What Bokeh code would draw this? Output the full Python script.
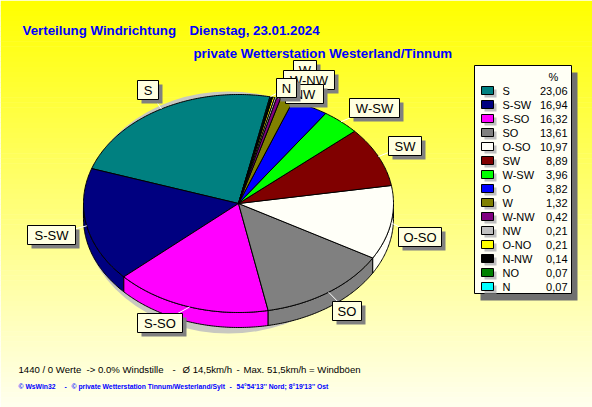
import numpy as np
from bokeh.plotting import figure
from bokeh.models import Range1d
from bokeh.embed import file_html
from bokeh.resources import INLINE
from bokeh.core.properties import value

# Wind direction shares (%) for the day, in legend order
directions = ["S", "S-SW", "S-SO", "SO", "O-SO", "SW", "W-SW", "O", "W",
              "W-NW", "NW", "O-NO", "N-NW", "NO", "N"]
shares = [23.06, 16.94, 16.32, 13.61, 10.97, 8.89, 3.96, 3.82, 1.32,
          0.42, 0.21, 0.21, 0.14, 0.07, 0.07]
colors = ["#008080", "#000080", "#ff00ff", "#808080", "#fffff8", "#800000",
          "#00ff00", "#0000ff", "#808000", "#800080", "#c0c0c0", "#ffff00",
          "#000000", "#008000", "#00ffff"]

title_left = "Verteilung Windrichtung"
title_date = "Dienstag, 23.01.2024"
subtitle = "private Wetterstation Westerland/Tinnum"
stats_parts = ["1440 / 0 Werte", "-> 0.0% Windstille", "-", "Ø 14,5km/h", "-",
               "Max. 51,5km/h = Windböen"]
credit_parts = ["© WsWin32", "-", "© private Wetterstation Tinnum/Westerland/Sylt",
                "-", "54°54'13'' Nord; 8°19'13'' Ost"]

# layout
W, H = 592, 407
CX, CY, RX, RY, DEPTH = 238, 203, 155, 109, 15
START = 78.3
FONT = value("Liberation Sans")

# label boxes (left, top, right, bottom) for the labelled slices
label_boxes = {
    "S": (137, 80, 158, 99),
    "S-SW": (27, 225, 75, 244),
    "S-SO": (137, 313, 182, 332),
    "SO": (332, 301, 361, 320),
    "O-SO": (398, 227, 441, 246),
    "SW": (388, 136, 421, 155),
    "W-SW": (349, 98, 399, 117),
    "W": (293, 60, 316, 79),
    "W-NW": (283, 70, 334, 89),
    "NW": (285, 84, 323, 103),
    "N": (276, 78, 296, 97),
}
stats_x = [18, 86, 172, 182, 236, 243]
credit_x = [18, 64, 71, 229, 236]

p = figure(width=W, height=H, output_backend="svg", toolbar_location=None,
           x_range=Range1d(0, W), y_range=Range1d(H, 0), min_border=0)
p.xaxis.visible = False
p.yaxis.visible = False
p.xgrid.visible = False
p.ygrid.visible = False
p.outline_line_color = None
p.background_fill_color = "#ffffff"
p.border_fill_color = "#ffffff"

# vertical yellow-to-cream background gradient
n_bands = 80
edges = np.linspace(0, H, n_bands + 1)
band_cols = []
for i in range(n_bands):
    f = (i + 0.5) / n_bands
    b = int(round(0 + 238 * f))
    band_cols.append("#%02x%02x%02x" % (255, 255, b))
p.quad(left=0, right=W, top=edges[:-1], bottom=edges[1:] + 0.5,
       fill_color=band_cols, line_color=None)

# soft shadow beneath the pie
p.ellipse(x=[CX - 10], y=[CY + 9], width=[2 * 146], height=[2 * 121],
          fill_color="#c8c8c0", line_color=None)

# slice angles
total = sum(shares)
angles = [s / total * 360.0 for s in shares]
t0s = []
acc = START
for a in angles:
    t0s.append(acc)
    acc += a


def arc(ta, tb, n=None):
    if n is None:
        n = max(3, int(abs(tb - ta) * 1.5))
    t = np.radians(np.linspace(ta, tb, n))
    return CX + RX * np.cos(t), CY - RY * np.sin(t)


# side walls for the front half of the pie
side_xs, side_ys, side_cols = [], [], []
for t0, a, c in zip(t0s, angles, colors):
    t1 = t0 + a
    for k in (0, 1):
        lo = max(t0, 180 + 360 * k)
        hi = min(t1, 360 + 360 * k)
        if hi > lo:
            ax, ay = arc(lo, hi)
            side_xs.append(list(ax) + list(ax[::-1]))
            side_ys.append(list(ay) + list((ay + DEPTH)[::-1]))
            side_cols.append(c)
p.patches(side_xs, side_ys, fill_color=side_cols, line_color="black", line_width=1)

# top faces
top_xs, top_ys = [], []
for t0, a in zip(t0s, angles):
    ax, ay = arc(t0, t0 + a)
    top_xs.append([CX] + list(ax))
    top_ys.append([CY] + list(ay))
p.patches(top_xs, top_ys, fill_color=colors, line_color="black", line_width=1)

# leader lines from slice edge to its label
lx0, ly0, lx1, ly1 = [], [], [], []
for d, t0, a in zip(directions, t0s, angles):
    if d not in label_boxes:
        continue
    mid = np.radians(t0 + a / 2)
    l, t, r, b = label_boxes[d]
    lx0.append(CX + RX * np.cos(mid))
    ly0.append(CY - RY * np.sin(mid))
    lx1.append((l + r) / 2)
    ly1.append((t + b) / 2)
p.segment(x0=lx0, y0=ly0, x1=lx1, y1=ly1, line_color="#ffffff", line_width=1)

# label boxes with drop shadow, each drawn over the previous
for d in label_boxes:
    l, t, r, b = label_boxes[d]
    p.quad(left=[l + 4], right=[r + 4], top=[t + 4], bottom=[b + 4],
           fill_color="#808080", line_color=None)
    p.quad(left=[l], right=[r], top=[t], bottom=[b],
           fill_color="#ffffe1", line_color="black", line_width=1)
    p.text(x=[(l + r) / 2], y=[(t + b) / 2 + 0.5], text=[d], text_font=FONT,
           text_font_size=value("13px"), text_align="center",
           text_baseline="middle", text_color="black")

# titles
p.text(x=[22], y=[30], text=[title_left], text_font=FONT, text_font_style="bold",
       text_font_size=value("13.3px"), text_color="#0000ff", text_baseline="alphabetic")
p.text(x=[189], y=[30], text=[title_date], text_font=FONT, text_font_style="bold",
       text_font_size=value("13.3px"), text_color="#0000ff", text_baseline="alphabetic")
p.text(x=[193], y=[53], text=[subtitle], text_font=FONT, text_font_style="bold",
       text_font_size=value("13.3px"), text_color="#0000ff", text_baseline="alphabetic")

# legend
LL, LT, LR, LB = 474, 65, 571, 293
p.quad(left=[LL + 6], right=[LR + 6], top=[LT + 7], bottom=[LB + 7],
       fill_color="#707070", line_color=None)
p.quad(left=[LL], right=[LR], top=[LT], bottom=[LB],
       fill_color="#fffff5", line_color="black", line_width=1)
p.text(x=[553], y=[76], text=["%"], text_font=FONT, text_font_size=value("11px"),
       text_align="center", text_baseline="middle", text_color="black")
rows = np.arange(len(directions))
row_y = 90 + 14 * rows
p.quad(left=484, right=496, top=row_y - 1, bottom=row_y + 7,
       fill_color="#c0c0c0", line_color=None)
p.quad(left=481, right=493, top=row_y - 4, bottom=row_y + 4,
       fill_color=colors, line_color="black", line_width=1)
p.text(x=502, y=row_y + 0.5, text=directions, text_font=FONT,
       text_font_size=value("11px"), text_baseline="middle", text_color="black")
p.text(x=567, y=row_y + 0.5, text=[("%.2f" % s).replace(".", ",") for s in shares],
       text_font=FONT, text_font_size=value("11px"), text_align="right",
       text_baseline="middle", text_color="black")

# footer lines
p.text(x=stats_x, y=[369] * len(stats_parts), text=stats_parts, text_font=FONT,
       text_font_size=value("9.6px"), text_baseline="middle", text_color="black")
p.text(x=credit_x, y=[386] * len(credit_parts), text=credit_parts, text_font=FONT,
       text_font_size=value("6.8px"), text_font_style="bold",
       text_baseline="middle", text_color="#0000ff")

open("out.html", "w").write(file_html(p, INLINE))
